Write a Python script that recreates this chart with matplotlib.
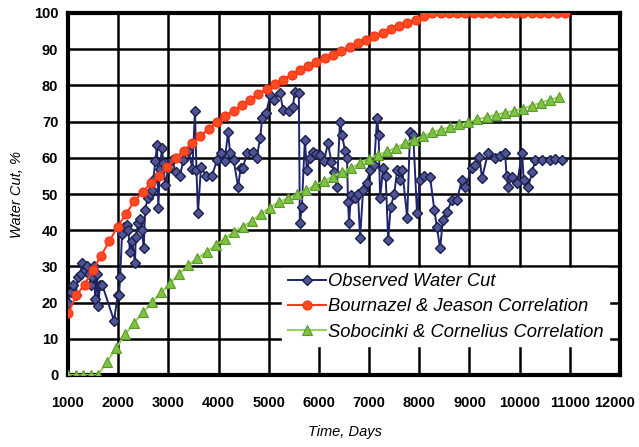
import matplotlib
matplotlib.use("Agg")
import matplotlib.pyplot as plt
from matplotlib.transforms import ScaledTranslation

plt.rcParams['font.family'] = ['Liberation Sans', 'DejaVu Sans']

# Observed water cut
obs_days = [1000, 1050, 1100, 1150, 1200, 1250, 1280, 1330, 1380, 1420, 1450, 1480, 1520, 1540,
            1580, 1600, 1640, 1680,
            1917, 1990, 2016, 2040, 2076, 2120, 2176, 2200, 2236, 2280, 2335, 2350, 2400, 2435,
            2470, 2510, 2535, 2590, 2640, 2674, 2700, 2740, 2774, 2800, 2830, 2873, 2900, 2933,
            3000, 3070, 3150, 3230, 3300, 3400, 3480, 3530, 3560, 3590, 3650, 3750, 3870, 3970,
            4050, 4120, 4190, 4230, 4300, 4390, 4440, 4490, 4560, 4690, 4760, 4830, 4870, 4950, 5030,
            5100, 5225, 5285, 5400, 5480, 5520, 5600, 5620, 5660, 5720, 5760, 5820, 5880, 5950, 6020,
            6100, 6180, 6250, 6300, 6360, 6420, 6460, 6520, 6560, 6580, 6600, 6640, 6720, 6780,
            6820, 6880, 6950, 7020,
            7100, 7160, 7190, 7220, 7280, 7330, 7380, 7430, 7500, 7560, 7620, 7660, 7760, 7815,
            7880, 7955, 8015,
            8100, 8215, 8300, 8350, 8415, 8470, 8550, 8650, 8750, 8850, 8920, 9050,
            9120, 9200, 9250, 9370, 9500, 9600, 9710, 9740, 9770, 9850, 9950, 10050, 10080, 10170,
            10250, 10310, 10450, 10600, 10700, 10840]
obs_cut = [20, 23, 25, 22, 27, 28, 31, 29, 30, 28, 25, 27, 30, 21,
           28, 19, 25, 25,
           15, 22, 22, 27, 39, 41, 41.5, 40, 34, 37, 31, 38, 42, 43,
           40, 35, 45.5, 49, 50, 51, 54, 59, 63.5, 46, 57, 62.7, 58.5, 52.5,
           57, 59.4, 56, 55, 59.4, 62, 57, 73, 56.6, 44.7, 57.5, 55, 55, 59.4,
           61.3, 59, 67, 61.3, 59.4, 52, 57.2, 57.2, 61.3, 61.6, 60, 65.5, 71, 72.4, 77.3,
           76, 78, 73.2, 73, 74, 78.2, 78, 42, 46.4, 65, 56.6, 60, 61.6, 61, 60.8,
           59, 64, 58.8, 56, 52, 70, 66.3, 62, 60, 47.8, 42, 49.7, 48.9, 50,
           37.8, 51, 53, 56.6,
           58, 71, 66.3, 48.9, 57.2, 55, 37.3, 46.4, 50, 56.6, 54, 56.6, 43.4, 67,
           66.3, 44.7, 54,
           55, 54.7, 45.6, 41, 35, 42.8, 45, 48.3, 48.3, 54, 52, 57.2,
           58, 60.2, 54.4, 61.3, 60, 60.5, 61.3, 55, 52, 54.7, 53, 61.3, 54, 52,
           56, 59.4, 59.5, 59.4, 59.6, 59.4]

# Bournazel & Jeason correlation
bj_days = [1000, 1165, 1330, 1495, 1660, 1825, 1990, 2155, 2320, 2485, 2650, 2815, 2980, 3145,
           3310, 3475, 3640, 3805, 3970, 4135, 4300, 4465, 4630, 4795, 4960, 5125, 5290, 5455,
           5620, 5785, 5950, 6115, 6280, 6445, 6610, 6775, 6940, 7105, 7270, 7435, 7600, 7765,
           7930, 8095, 8260, 8425, 8590, 8755, 8920, 9085, 9250, 9415, 9580, 9745, 9910, 10075,
           10240, 10405, 10570, 10735, 10900]
bj_cut = [17, 22, 25, 29, 33, 37, 41, 44.5, 48, 50.5, 53, 55, 57.5, 60,
          62, 64, 66, 68, 70, 71.5, 73, 74.5, 76, 77.5, 79, 80.3, 81.6, 83,
          84.2, 85.4, 86.5, 87.5, 88.5, 89.6, 90.6, 91.6, 92.6, 93.6, 94.6, 95.5, 96.4, 97.3,
          98.2, 99.1, 100, 100, 100, 100, 100, 100, 100, 100, 100, 100, 100, 100,
          100, 100, 100, 100, 100]

# Sobocinki & Cornelius correlation
sc_days = [1000, 1150, 1300, 1450, 1600, 1780, 1960, 2140, 2320, 2500, 2680, 2860, 3040, 3220,
           3400, 3580, 3760, 3940, 4120, 4300, 4480, 4660, 4840, 5020, 5200, 5380, 5560, 5740,
           5920, 6100, 6280, 6460, 6640, 6820, 7000, 7180, 7360, 7540, 7720, 7900, 8080, 8260,
           8440, 8620, 8800, 8980, 9160, 9340, 9520, 9700, 9880, 10060, 10240, 10420, 10600, 10780]
sc_cut = [0, 0, 0, 0, 0, 3.7, 7.5, 11.2, 14.5, 17.3, 20.3, 22.8, 25.4, 28,
          30.4, 32.2, 34, 35.8, 37.6, 39.4, 41, 42.5, 44.5, 46.2, 47.8, 48.8, 50, 51,
          52.4, 53.6, 54.8, 56, 57.2, 58.5, 59.8, 60.8, 61.8, 62.8, 64, 65, 66, 67,
          67.8, 68.6, 69.2, 69.8, 70.6, 71.2, 71.8, 72.4, 73, 73.6, 74.4, 75.2, 76, 76.8]

xticks = list(range(1000, 12001, 1000))
yticks = list(range(0, 101, 10))

fig = plt.figure(figsize=(6.39, 4.47), dpi=100)
ax = fig.add_axes([68/639, 1-375/447, (620-68)/639, (375-13)/447])

ax.plot(obs_days, obs_cut, color='#1e2470', lw=1.4, marker='D', ms=5.5,
        mfc='#4d5596', mec='#1c1f4a', mew=1.0, label='Observed Water Cut', zorder=3)
ax.plot(bj_days, bj_cut, color='#ff3b20', lw=1.5, marker='o', ms=6.5,
        mfc='#ff4a22', mec='#ff3010', mew=0.8, label='Bournazel & Jeason Correlation', zorder=4)
ax.plot(sc_days, sc_cut, color='#9ad15a', lw=1.5, marker='^', ms=6.5,
        mfc='#7fc241', mec='#5a9a2a', mew=0.8, label='Sobocinki & Cornelius Correlation', zorder=4)

ax.set_xlim(1000, 12000)
ax.set_ylim(0, 100)
ax.set_xticks(xticks)
ax.set_yticks(yticks)
ax.grid(True, color='black', lw=1.8)
ax.set_axisbelow(True)
for s in ax.spines.values():
    s.set_linewidth(3)
    s.set_color('black')
ax.tick_params(axis='both', length=0, labelsize=10.5)
ax.tick_params(axis='x', pad=15)
ax.tick_params(axis='y', pad=7)
for lab in ax.get_xticklabels() + ax.get_yticklabels():
    lab.set_fontweight('bold')
last = ax.get_xticklabels()[-1]
last.set_transform(last.get_transform() + ScaledTranslation(-5/100, 0, fig.dpi_scale_trans))

fig.text(345/639, 1-432/447, 'Time, Days', ha='center', va='center', style='italic', fontsize=10.5)
fig.text(17/639, 1-195/447, 'Water Cut, %', ha='center', va='center', style='italic',
         fontsize=10.5, rotation=90)

leg = ax.legend(loc='center right', bbox_to_anchor=(0.980, 0.188), frameon=True,
                fancybox=False, framealpha=1, edgecolor='white', facecolor='white',
                prop={'style': 'italic', 'size': 13.2}, handlelength=2.1, handletextpad=0.1,
                labelspacing=0.45, borderpad=0.3, borderaxespad=0)
leg.set_zorder(5)

fig.savefig('out.png', dpi=100)
